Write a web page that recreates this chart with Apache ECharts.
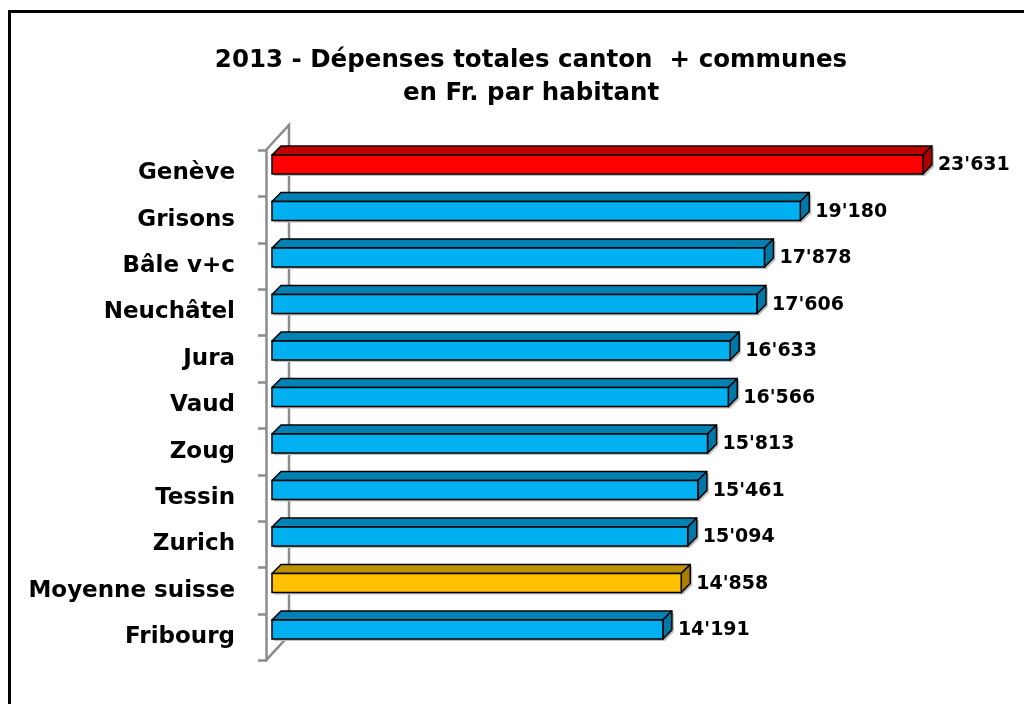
<!DOCTYPE html>
<html>
<head>
<meta charset="utf-8">
<script src="https://cdn.jsdelivr.net/npm/echarts/dist/echarts.min.js"></script>
<style>
html,body{margin:0;padding:0;background:#fff;}
#chart{width:1024px;height:704px;}
</style>
</head>
<body>
<div id="chart"></div>
<script>
const categories = ['Genève', 'Grisons', 'Bâle v+c', 'Neuchâtel', 'Jura', 'Vaud', 'Zoug', 'Tessin', 'Zurich', 'Moyenne suisse', 'Fribourg'];
const values = [23631, 19180, 17878, 17606, 16633, 16566, 15813, 15461, 15094, 14858, 14191];
const titleLines = ['2013 - Dépenses totales canton  + communes', 'en Fr. par habitant'];
const highlighted = { 'Genève': 'red', 'Moyenne suisse': 'yellow' };

const palettes = {
  blue:   { front: '#00B0F0', top: '#0083B4', side: '#0077A6' },
  red:    { front: '#FF0000', top: '#C00000', side: '#AE0000' },
  yellow: { front: '#FFC000', top: '#BF9000', side: '#A67D00' }
};
const fmt = v => String(v).replace(/\B(?=(\d{3})+(?!\d))/g, "'");
const FONT = '"DejaVu Sans", "Liberation Sans", Arial, sans-serif';

const chart = echarts.init(document.getElementById('chart'));

function renderBar(params, api) {
  const val = api.value(0);
  const idx = api.value(1);
  const s = api.coord([0, idx]);
  const e = api.coord([val, idx]);
  const h = 19, d = 9;
  const c = s[1];
  const x0 = s[0], x1 = e[0];
  const y0 = c - h / 2, y1 = c + h / 2;
  const pal = palettes[highlighted[categories[idx]] || 'blue'];
  const sh = 2;
  return {
    type: 'group',
    children: [
      { type: 'polygon', shape: { points: [[x0 + sh, y0 + sh], [x0 + d + sh, y0 - d + sh], [x1 + d + sh, y0 - d + sh], [x1 + d + sh, y1 - d + sh], [x1 + sh, y1 + sh], [x0 + sh, y1 + sh]] },
        style: { fill: '#BEBEBE' } },
      { type: 'polygon', shape: { points: [[x0, y0], [x0 + d, y0 - d], [x1 + d, y0 - d], [x1, y0]] },
        style: { fill: pal.top, stroke: '#000', lineWidth: 1.5, lineJoin: 'round' } },
      { type: 'polygon', shape: { points: [[x1, y0], [x1 + d, y0 - d], [x1 + d, y1 - d], [x1, y1]] },
        style: { fill: pal.side, stroke: '#000', lineWidth: 1.5, lineJoin: 'round' } },
      { type: 'rect', shape: { x: x0, y: y0, width: x1 - x0, height: h },
        style: { fill: pal.front, stroke: '#000', lineWidth: 1.5 } },
      { type: 'text', style: { text: fmt(val), x: x1 + d + 6, y: c + 1, align: 'left', verticalAlign: 'middle',
        fill: '#000', font: 'bold 19px ' + FONT } }
    ]
  };
}

function renderWall(params, api) {
  const p = api.coord([0, 0]);
  const bandH = api.size([0, 1])[1];
  const x = p[0];
  const yTop = p[1] - bandH / 2;
  const yBot = yTop + bandH * categories.length;
  const dx = 23, dy = -25;
  return {
    type: 'polyline',
    shape: { points: [[x, yTop], [x + dx, yTop + dy], [x + dx, yBot + dy], [x, yBot]] },
    style: { stroke: '#8C8C8C', lineWidth: 2.5, fill: null }
  };
}

const option = {
  backgroundColor: '#fff',
  animation: false,
  title: {
    text: titleLines.join('\n'),
    left: 526, top: 39, textAlign: 'center',
    textStyle: { fontFamily: FONT, fontWeight: 'bold', fontSize: 24.5, lineHeight: 33, color: '#000' }
  },
  graphic: [
    { type: 'rect', shape: { x: 9.5, y: 11.5, width: 1100, height: 800 }, style: { fill: 'none', stroke: '#000', lineWidth: 3 }, z: 100 }
  ],
  grid: [
    { left: 272, top: 141.25, width: 688.6, height: 511.5 },
    { left: 266, top: 150, width: 600, height: 510.4 }
  ],
  xAxis: [
    { type: 'value', gridIndex: 0, min: 0, max: 25000, show: false },
    { type: 'value', gridIndex: 1, min: 0, max: 1, show: false }
  ],
  yAxis: [
    { type: 'category', gridIndex: 0, data: categories, inverse: true, show: false },
    { type: 'category', gridIndex: 1, data: categories, inverse: true,
      axisLine: { show: true, lineStyle: { color: '#8C8C8C', width: 2.5 } },
      axisTick: { show: true, interval: 0, length: 8, lineStyle: { color: '#8C8C8C', width: 2.5 } },
      axisLabel: { interval: 0, margin: 31, fontFamily: FONT, fontWeight: 'bold', fontSize: 23, color: '#000' },
      splitLine: { show: false }
    }
  ],
  series: [
    { type: 'custom', name: 'wall', xAxisIndex: 1, yAxisIndex: 1, renderItem: renderWall, data: [[0, 0]], z: 1, silent: true, clip: false },
    { type: 'custom', name: 'Dépenses', xAxisIndex: 0, yAxisIndex: 0, renderItem: renderBar,
      data: values.map((v, i) => [v, i]), encode: { x: 0, y: 1 }, z: 5, clip: false }
  ]
};
chart.setOption(option);
</script>
</body>
</html>
